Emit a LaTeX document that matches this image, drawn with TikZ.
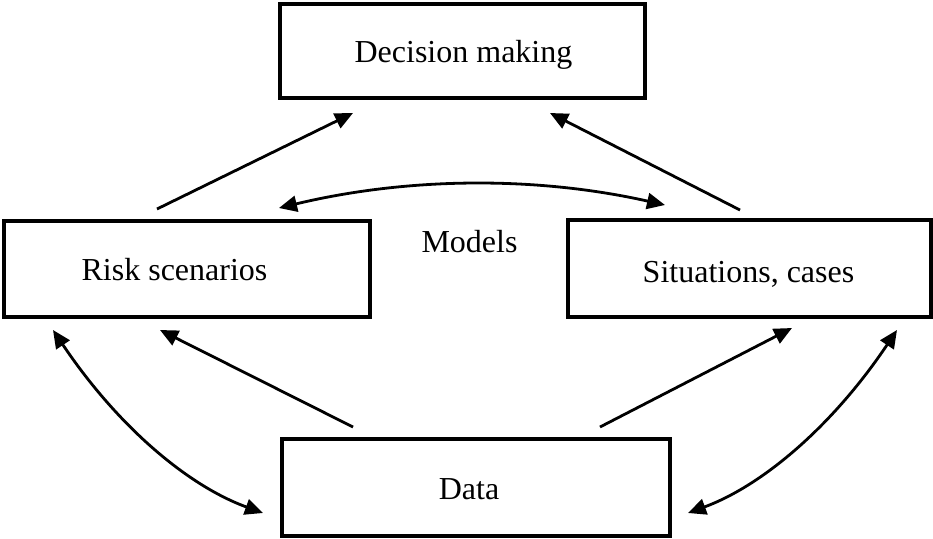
\documentclass[tikz,border=0pt]{standalone}
\usepackage{fontspec}
\setmainfont{Liberation Serif}
\usetikzlibrary{arrows.meta}
\begin{document}
\begin{tikzpicture}[x=0.5pt,y=-0.5pt,
  box/.style={draw, line width=1.8pt, inner sep=0pt},
  lbl/.style={anchor=base, inner sep=0pt, font=\fontsize{16}{19}\selectfont},
  conn/.style={line width=1.4pt, -{Triangle[length=9pt,width=8pt]}},
  dconn/.style={line width=1.4pt, {Triangle[length=9pt,width=8pt]}-{Triangle[length=9pt,width=8pt]}}]
\useasboundingbox (0,0) rectangle (933,538);
% boxes
\node[box, minimum width=182.5pt, minimum height=47pt] (dm) at (462.5,51) {};
\node[box, minimum width=183pt, minimum height=48pt] (rs) at (187,269) {};
\node[box, minimum width=181.5pt, minimum height=48.5pt] (sc) at (749.5,268.5) {};
\node[box, minimum width=194pt, minimum height=48.5pt] (da) at (476,487.5) {};
% texts
\node[lbl] (tdm) at (463.5,62) {Decision making};
\node[lbl] (trs) at (174.5,280) {Risk scenarios};
\node[lbl] (tsc) at (748.5,282) {Situations, cases};
\node[lbl] (tda) at (469,499) {Data};
\node[lbl] (tmo) at (469.5,252) {Models};
% connector end points
\coordinate (a1s) at (157,209);  \coordinate (a1e) at (353,113);
\coordinate (a2s) at (740,210);  \coordinate (a2e) at (550,113);
\coordinate (a3s) at (353,427);  \coordinate (a3e) at (160,330);
\coordinate (a4s) at (600,427);  \coordinate (a4e) at (792,328);
\coordinate (m1) at (279,208);   \coordinate (m2) at (665,205);
\coordinate (l1) at (53,330);    \coordinate (l2) at (263,513);
\coordinate (r1) at (897,330);   \coordinate (r2) at (688,513);
% connectors
\draw[conn] (a1s) -- (a1e);
\draw[conn] (a2s) -- (a2e);
\draw[conn] (a3s) -- (a3e);
\draw[conn] (a4s) -- (a4e);
\draw[dconn] (m1) .. controls (408,177) and (536,176) .. (m2);
\draw[dconn] (l1) .. controls (116,424) and (186,485) .. (l2);
\draw[dconn] (r1) .. controls (834,424) and (764,485) .. (r2);
\end{tikzpicture}
\end{document}
